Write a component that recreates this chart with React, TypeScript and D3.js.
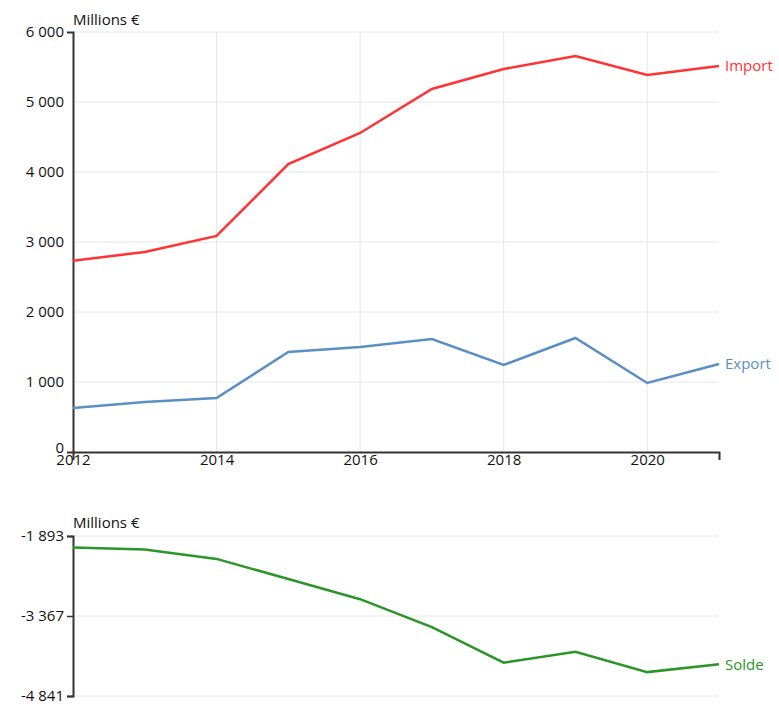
import React, { useRef, useEffect } from 'react';
import * as d3 from 'd3';

const years = [2012, 2013, 2014, 2015, 2016, 2017, 2018, 2019, 2020, 2021];
const importValues = [2733, 2857, 3086, 4114, 4557, 5186, 5471, 5657, 5387, 5514];
const exportValues = [630, 714, 771, 1429, 1500, 1614, 1243, 1629, 986, 1257];
const topTicks = [0, 1000, 2000, 3000, 4000, 5000, 6000];
const xTickYears = [2012, 2014, 2016, 2018, 2020];
const unitLabel = 'Millions €';

const FONT = '"Open Sans", sans-serif';
const TICK_SIZE = 15;
const fmt = (v: number) => d3.format(',')(Math.round(v)).replace(/,/g, ' ').replace('−', '-');

const App = () => {
  const svgRef = useRef<SVGSVGElement>(null);

  useEffect(() => {
    const svg = d3.select(svgRef.current);
    svg.selectAll('*').remove();

    const left = 73, right = 719;
    const x = d3.scaleLinear().domain([2012, 2021]).range([left, right]);

    // ---------- top chart ----------
    const y = d3.scaleLinear().domain([0, 6000]).range([452, 32]);
    const top = svg.append('g');

    top.append('g').selectAll('line.h')
      .data(topTicks.slice(1))
      .enter().append('line')
      .attr('x1', left).attr('x2', right)
      .attr('y1', d => y(d)).attr('y2', d => y(d))
      .attr('stroke', '#e6e6e6').attr('stroke-width', 1);
    top.append('g').selectAll('line.v')
      .data(xTickYears.slice(1))
      .enter().append('line')
      .attr('x1', d => x(d)).attr('x2', d => x(d))
      .attr('y1', y(6000)).attr('y2', y(0))
      .attr('stroke', '#e6e6e6').attr('stroke-width', 1);

    const xAxis = top.append('g')
      .attr('transform', `translate(0,${y(0)})`)
      .call(d3.axisBottom(x).tickValues(xTickYears).tickFormat(d => String(d)).tickSizeInner(0).tickSizeOuter(8).tickPadding(2));
    const yAxis = top.append('g')
      .attr('transform', `translate(${left},0)`)
      .call(d3.axisLeft(y).tickValues(topTicks).tickFormat(d => fmt(d as number)).tickSizeInner(0).tickSizeOuter(6).tickPadding(9));

    [xAxis, yAxis].forEach(a => {
      a.select('.domain').attr('stroke', '#333').attr('stroke-width', 2);
      a.selectAll('text').attr('font-family', FONT).attr('font-size', TICK_SIZE).attr('fill', '#111');
    });
    // zero label sits a little above the axis line, as in the original
    yAxis.selectAll('text').filter(d => d === 0).attr('dy', '0.0em');

    const line = d3.line<number>()
      .x((d, i) => x(years[i]))
      .y(d => y(d));

    const series = [
      { name: 'Import', values: importValues, color: '#ff3333' },
      { name: 'Export', values: exportValues, color: '#5a8fc4' },
    ];
    series.forEach(s => {
      top.append('path')
        .attr('d', line(s.values))
        .attr('fill', 'none')
        .attr('stroke', s.color)
        .attr('stroke-width', 2.5);
      top.append('text')
        .attr('x', x(2021) + 6)
        .attr('y', y(s.values[s.values.length - 1]))
        .attr('dy', '0.35em')
        .attr('font-family', FONT).attr('font-size', 15)
        .attr('fill', s.color)
        .text(s.name);
    });

    top.append('text')
      .attr('x', left).attr('y', 25)
      .attr('font-family', FONT).attr('font-size', 15).attr('fill', '#111')
      .text(unitLabel);

    // ---------- bottom chart (solde) ----------
    const solde = importValues.map((v, i) => exportValues[i] - v);
    const sMin = d3.min(solde)! * 1.1;
    const sMax = d3.max(solde)! * 0.9;
    const y2 = d3.scaleLinear().domain([sMin, sMax]).range([696, 536]);
    const bottomTicks = [sMax, (sMin + sMax) / 2, sMin];
    const bottom = svg.append('g');

    bottom.append('g').selectAll('line')
      .data(bottomTicks)
      .enter().append('line')
      .attr('x1', left).attr('x2', right)
      .attr('y1', d => y2(d)).attr('y2', d => y2(d))
      .attr('stroke', '#e6e6e6').attr('stroke-width', 1);

    const y2Axis = bottom.append('g')
      .attr('transform', `translate(${left},0)`)
      .call(d3.axisLeft(y2).tickValues(bottomTicks).tickFormat(d => fmt(d as number)).tickSizeInner(6).tickSizeOuter(6).tickPadding(3));
    y2Axis.select('.domain').attr('stroke', '#333').attr('stroke-width', 2);
    y2Axis.selectAll('.tick line').attr('stroke', '#333').attr('stroke-width', 1.5);
    y2Axis.selectAll('text').attr('font-family', FONT).attr('font-size', TICK_SIZE).attr('fill', '#111');

    const line2 = d3.line<number>()
      .x((d, i) => x(years[i]))
      .y(d => y2(d));
    bottom.append('path')
      .attr('d', line2(solde))
      .attr('fill', 'none')
      .attr('stroke', '#2a9628')
      .attr('stroke-width', 2.5);
    bottom.append('text')
      .attr('x', x(2021) + 6)
      .attr('y', y2(solde[solde.length - 1]))
      .attr('dy', '0.35em')
      .attr('font-family', FONT).attr('font-size', 15)
      .attr('fill', '#2a9628')
      .text('Solde');

    bottom.append('text')
      .attr('x', left).attr('y', 528)
      .attr('font-family', FONT).attr('font-size', 15).attr('fill', '#111')
      .text(unitLabel);
  }, []);

  return (
    <svg ref={svgRef} width={779} height={704}
      style={{ position: 'absolute', left: 0, top: 0, background: '#fff' }} />
  );
};

export default App;
